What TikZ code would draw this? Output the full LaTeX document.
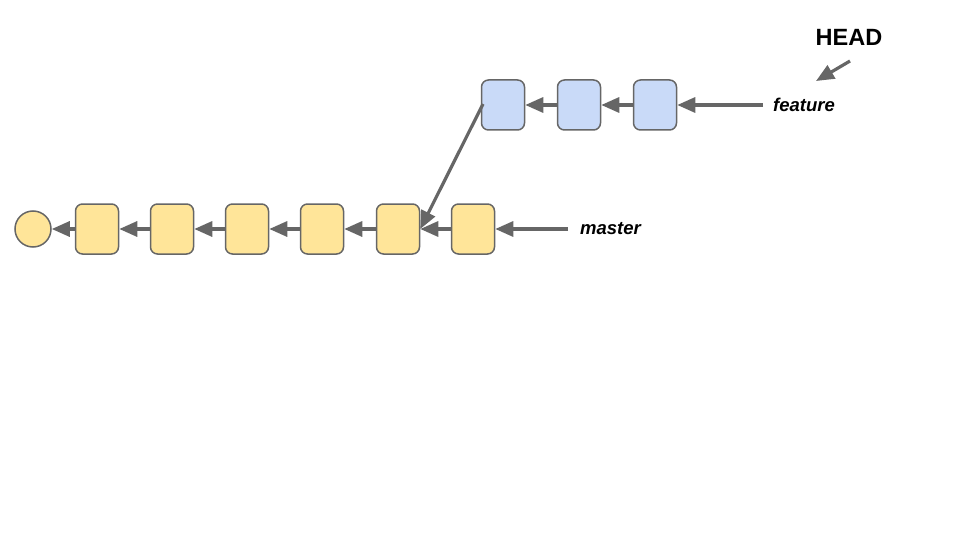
\documentclass[tikz,border=0pt]{standalone}
\usepackage{fontspec}
\setmainfont{Liberation Sans}
\usetikzlibrary{arrows.meta}
\definecolor{ylw}{HTML}{FFE599}
\definecolor{blu}{HTML}{C9DAF8}
\definecolor{edge}{HTML}{666666}
\begin{document}
\begin{tikzpicture}[x=1pt,y=-1pt,
  commit/.style={draw=edge,line width=1.5pt,rounded corners=7pt,minimum width=43pt,minimum height=50pt,inner sep=0pt},
  ycommit/.style={commit,fill=ylw},
  bcommit/.style={commit,fill=blu},
  link/.style={draw=edge,line width=3.2pt,-{Triangle[length=18pt,width=15pt]}},
  lbl/.style={font=\fontsize{18.5}{20}\selectfont\bfseries\itshape,inner sep=0pt,anchor=west}]
\useasboundingbox (0,0) rectangle (960,540);
\node[circle,draw=edge,line width=1.5pt,fill=ylw,minimum size=36pt,inner sep=0pt] (c0) at (33,229) {};
\node[ycommit] (y1) at (97,229) {};
\node[ycommit] (y2) at (172,229) {};
\node[ycommit] (y3) at (247,229) {};
\node[ycommit] (y4) at (322,229) {};
\node[ycommit] (y5) at (398,229) {};
\node[ycommit] (y6) at (473,229) {};
\node[bcommit] (b1) at (503,105) {};
\node[bcommit] (b2) at (579,105) {};
\node[bcommit] (b3) at (655,105) {};
\node[lbl] (master) at (580,229) {master};
\node[lbl] (feature) at (773,105) {feature};
\node[font=\fontsize{23.5}{26}\selectfont\bfseries,inner sep=0pt] (head) at (849,37) {HEAD};
\coordinate (hs) at (850,61);
\coordinate (he) at (816,81);
\coordinate (ms) at (568,229);
\coordinate (fs) at (763,105);
\coordinate (ds) at (483,104);
\draw[link] (y1) -- (c0);
\draw[link] (y2) -- (y1);
\draw[link] (y3) -- (y2);
\draw[link] (y4) -- (y3);
\draw[link] (y5) -- (y4);
\draw[link] (y6) -- (y5);
\draw[link] (b2) -- (b1);
\draw[link] (b3) -- (b2);
\draw[link] (ms) -- (y6.east);
\draw[link] (fs) -- (b3.east);
\draw[link] (ds) -- (y5.east);
\draw[link] (hs) -- (he);
\end{tikzpicture}
\end{document}
